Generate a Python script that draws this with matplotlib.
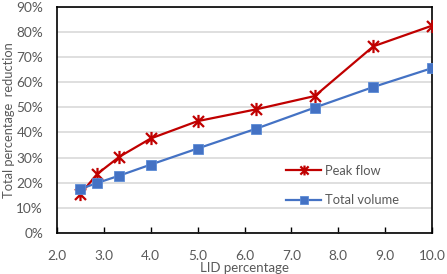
import matplotlib
matplotlib.use("Agg")
import matplotlib.pyplot as plt
from matplotlib.path import Path
from matplotlib.ticker import FuncFormatter

# data
lid_pct = [2.5, 2.86, 3.33, 4.0, 5.0, 6.25, 7.5, 8.75, 10.0]
peak_flow = [15.5, 23.5, 30.3, 37.6, 44.5, 49.2, 54.5, 74.3, 82.5]
total_volume = [17.5, 19.9, 22.8, 27.2, 33.6, 41.5, 49.9, 58.1, 65.6]
x_ticks = [2.0, 3.0, 4.0, 5.0, 6.0, 7.0, 8.0, 9.0, 10.0]
y_ticks = [0, 10, 20, 30, 40, 50, 60, 70, 80, 90]

plt.rcParams['font.family'] = ['Lato', 'DejaVu Sans']
grey = '#595959'
red = '#C00000'
blue = '#4472C4'

# excel style asterisk: an x with a vertical bar
star = Path([(-1, -1), (1, 1), (-1, 1), (1, -1), (0, -1.2), (0, 1.2)],
            [Path.MOVETO, Path.LINETO, Path.MOVETO, Path.LINETO, Path.MOVETO, Path.LINETO])

fig = plt.figure(figsize=(4.47, 2.74), dpi=100)
ax = fig.add_axes([0.1275, 0.150, 0.839, 0.825])

ax.plot(lid_pct, peak_flow, color=red, linewidth=1.6, marker=star, markersize=9.5,
        markeredgewidth=1.6, markeredgecolor=red, label='Peak flow', zorder=3)
ax.plot(lid_pct, total_volume, color=blue, linewidth=1.6, marker='s', markersize=7.5,
        markerfacecolor=blue, markeredgecolor='#5B8BD6', markeredgewidth=0.6,
        label='Total volume', zorder=3)

ax.set_xlim(2.0, 10.0)
ax.set_ylim(0, 90)
ax.set_xticks(x_ticks)
ax.set_yticks(y_ticks)
ax.xaxis.set_major_formatter(FuncFormatter(lambda v, p: f'{v:.1f}'))
ax.yaxis.set_major_formatter(FuncFormatter(lambda v, p: f'{v:.0f}%'))
ax.tick_params(axis='x', direction='in', length=4, width=1, colors='black',
               labelcolor=grey, labelsize=9.8, pad=12)
ax.tick_params(axis='y', length=0, labelcolor=grey, labelsize=9.8, pad=10)
ax.grid(axis='y', color='#D9D9D9', linewidth=1.2)
ax.set_axisbelow(True)
for s in ax.spines.values():
    s.set_color('black')
    s.set_linewidth(1.2)

ax.set_xlabel('LID percentage', color=grey, fontsize=9.5, labelpad=0)
ax.set_ylabel('Total percentage  reduction', color=grey, fontsize=9.3, labelpad=1)

ax.legend(loc='upper left', bbox_to_anchor=(0.58, 0.353), frameon=False, fontsize=9.3,
          labelcolor=grey, handlelength=2.7, labelspacing=1.35, handletextpad=0.3,
          markerscale=0.75)

fig.savefig('out.png', dpi=100)
